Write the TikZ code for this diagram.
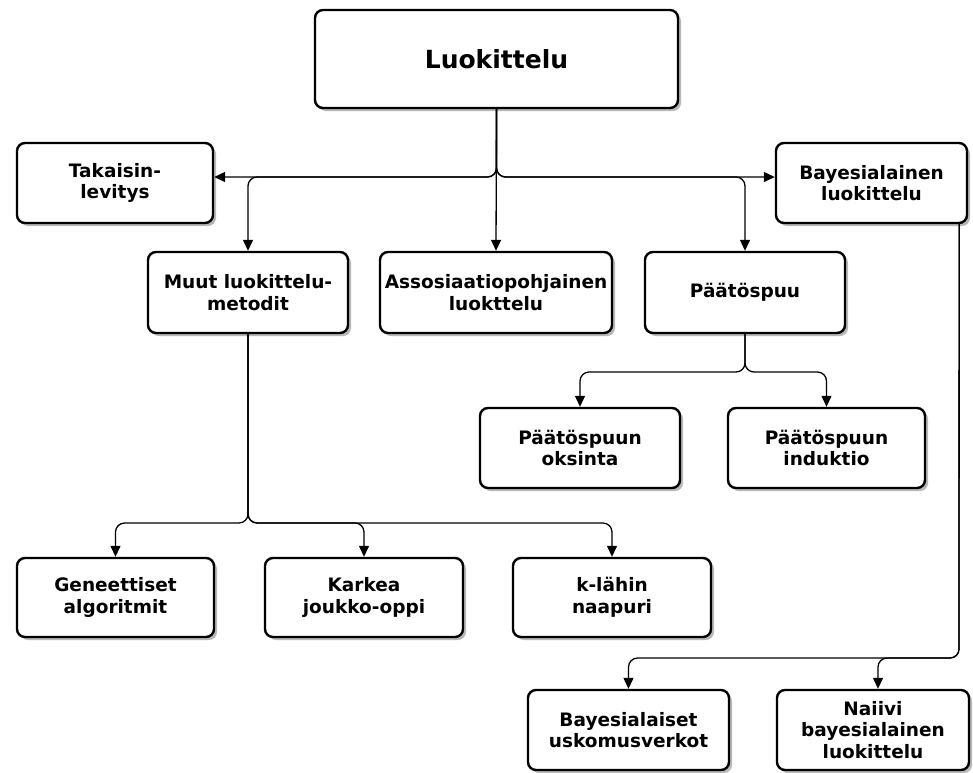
\documentclass[tikz,border=0pt]{standalone}
\usepackage{fontspec}
\setmainfont{DejaVu Sans}
\usetikzlibrary{arrows.meta,shadows}
\begin{document}
\begin{tikzpicture}[x=1pt,y=-1pt,
        laatikko/.style={draw,line width=2.4pt,rounded corners=8pt,fill=white,align=center,inner sep=1pt,
            drop shadow={shadow xshift=3pt,shadow yshift=-3pt,fill=black!35,opacity=.8},
            font=\bfseries\fontsize{18.5}{21.5}\selectfont},
        nuoli/.style={->,line width=1.3pt,rounded corners=9pt},
        >={Triangle[length=11pt,width=10pt]}]
        \useasboundingbox (0,0) rectangle (973,772);

        \node (luok) at (496.5,59) [laatikko,minimum width=363pt,minimum height=98pt,font=\bfseries\fontsize{25}{28}\selectfont] {Luokittelu};

        \node (taka) at (115,183) [laatikko,minimum width=196pt,minimum height=80pt] {Takaisin-\\levitys};
        \node (baye) at (871.5,183) [laatikko,minimum width=191pt,minimum height=80pt] {Bayesialainen\\luokittelu};

        \node (muut) at (248,292.5) [laatikko,minimum width=200pt,minimum height=81pt] {Muut luokittelu-\\metodit};
        \node (asso) at (496,292.5) [laatikko,minimum width=232pt,minimum height=81pt] {Assosiaatiopohjainen\\luokttelu};
        \node (paat) at (745,292.5) [laatikko,minimum width=200pt,minimum height=81pt] {Päätöspuu};

        \node (oks) at (580,448) [laatikko,minimum width=200pt,minimum height=80pt] {Päätöspuun\\oksinta};
        \node (ind) at (826.5,448) [laatikko,minimum width=197pt,minimum height=80pt] {Päätöspuun\\induktio};

        \node (gen) at (115.5,597.5) [laatikko,minimum width=197pt,minimum height=79pt] {Geneettiset\\algoritmit};
        \node (kark) at (364,597.5) [laatikko,minimum width=198pt,minimum height=79pt] {Karkea\\joukko-oppi};
        \node (klah) at (612,597.5) [laatikko,minimum width=198pt,minimum height=79pt] {k-lähin\\naapuri};

        \node (bun) at (628.5,730) [laatikko,minimum width=201pt,minimum height=80pt] {Bayesialaiset\\uskomusverkot};
        \node (naiv) at (873,730) [laatikko,minimum width=192pt,minimum height=80pt] {Naiivi\\bayesialainen\\luokittelu};

        \coordinate (jako) at (496.5,177);
        \coordinate (jako2) at (745,372);
        \coordinate (jako3) at (248,523);
        \coordinate (jako4) at (959,658);

        \draw[nuoli] (luok.south) -- (jako) -- ([yshift=6pt]taka.east);
        \draw[nuoli] (luok.south) -- (jako) -- ([yshift=6pt]baye.west);
        \draw[nuoli] (luok.south) -- (jako) -| (muut.north);
        \draw[nuoli] (luok.south) -- (asso.north);
        \draw[nuoli] (luok.south) -- (jako) -| (paat.north);

        \draw[nuoli] (paat.south) -- (jako2) -| (oks.north);
        \draw[nuoli] (paat.south) -- (jako2) -| (ind.north);

        \draw[nuoli] (muut.south) -- (jako3) -| (gen.north);
        \draw[nuoli] (muut.south) -- (jako3) -| (kark.north);
        \draw[nuoli] (muut.south) -- (jako3) -| (klah.north);

        \draw[nuoli] ([xshift=-9pt]baye.south east) -- (jako4) -| (bun.north);
        \draw[nuoli] ([xshift=-9pt]baye.south east) -- (jako4) -| ([xshift=5pt]naiv.north);
    \end{tikzpicture}
\end{document}
